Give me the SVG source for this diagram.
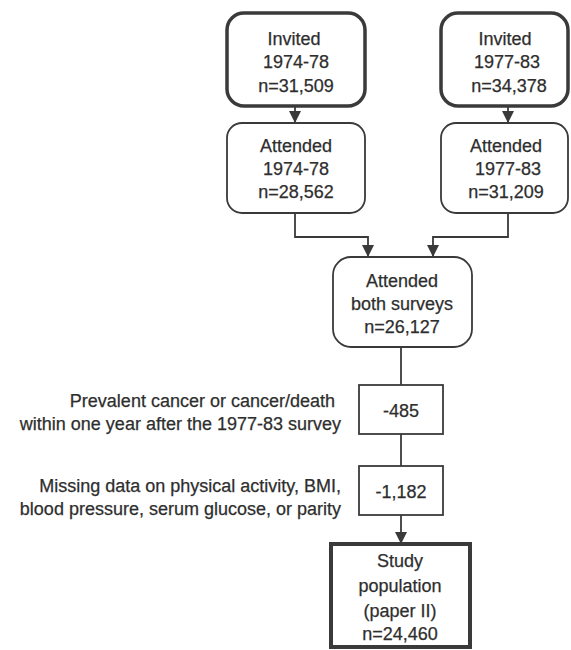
<svg xmlns="http://www.w3.org/2000/svg" width="571" height="650" viewBox="0 0 571 650">
  <style>
    text { font-family: "Liberation Sans", Arial, sans-serif; font-size: 18px; fill: #2e2e2e; stroke: #2e2e2e; stroke-width: 0.25; }
    .c { text-anchor: middle; }
    .r { text-anchor: end; }
    .box { fill: #ffffff; stroke: #3a3a3a; stroke-width: 1.8; }
    .thick { fill: #ffffff; stroke: #3a3a3a; stroke-width: 3.5; }
    .heavy { fill: #ffffff; stroke: #3a3a3a; stroke-width: 4; }
    .conn { fill: none; stroke: #3a3a3a; stroke-width: 1.8; }
  </style>
  <defs>
    <marker id="arrow" markerUnits="userSpaceOnUse" viewBox="0 0 10 10" markerWidth="12" markerHeight="12" refX="10" refY="5" orient="auto">
      <path d="M0,0 L10,5 L0,10 z" fill="#3a3a3a"/>
    </marker>
  </defs>
  <rect width="571" height="650" fill="#ffffff"/>

  <g id="connectors">
    <path class="conn" d="M295,106 V123" marker-end="url(#arrow)"/>
    <path class="conn" d="M508,106 V123" marker-end="url(#arrow)"/>
    <path class="conn" d="M295,213 V237 H368 V257" marker-end="url(#arrow)"/>
    <path class="conn" d="M508,213 V237 H433 V257" marker-end="url(#arrow)"/>
    <path class="conn" d="M401,347 V385"/>
    <path class="conn" d="M401,434 V466"/>
    <path class="conn" d="M401,515 V544" marker-end="url(#arrow)"/>
  </g>

  <g id="invited-1974">
    <rect class="thick" x="227" y="13" width="138" height="93" rx="17"/>
    <text class="c" x="294" y="45">Invited</text>
    <text class="c" x="296" y="68">1974-78</text>
    <text class="c" x="296" y="92">n=31,509</text>
  </g>
  <g id="invited-1977">
    <rect class="thick" x="441" y="13" width="127" height="93" rx="17"/>
    <text class="c" x="505" y="45">Invited</text>
    <text class="c" x="507" y="68">1977-83</text>
    <text class="c" x="509" y="92">n=34,378</text>
  </g>
  <g id="attended-1974">
    <rect class="box" x="227" y="123" width="138" height="90" rx="15"/>
    <text class="c" x="296" y="152">Attended</text>
    <text class="c" x="296" y="175">1974-78</text>
    <text class="c" x="296" y="198">n=28,562</text>
  </g>
  <g id="attended-1977">
    <rect class="box" x="441" y="123" width="127" height="90" rx="15"/>
    <text class="c" x="506" y="152">Attended</text>
    <text class="c" x="508" y="175">1977-83</text>
    <text class="c" x="506" y="198">n=31,209</text>
  </g>
  <g id="attended-both">
    <rect class="box" x="333" y="257" width="139" height="90" rx="18"/>
    <text class="c" x="402" y="287">Attended</text>
    <text class="c" x="402" y="310">both surveys</text>
    <text class="c" x="402" y="333">n=26,127</text>
  </g>
  <g id="excl-485">
    <rect class="box" x="359" y="385" width="84" height="49"/>
    <text class="c" x="401" y="417">-485</text>
    <text class="r" x="335" y="407">Prevalent cancer or cancer/death</text>
    <text class="r" x="341" y="430">within one year after the 1977-83 survey</text>
  </g>
  <g id="excl-1182">
    <rect class="box" x="359" y="466" width="84" height="49"/>
    <text class="c" x="401" y="498">-1,182</text>
    <text class="r" x="341" y="492">Missing data on physical activity, BMI,</text>
    <text class="r" x="341" y="515">blood pressure, serum glucose, or parity</text>
  </g>
  <g id="study-population">
    <rect class="heavy" x="331" y="544" width="139" height="103"/>
    <text class="c" x="400" y="567">Study</text>
    <text class="c" x="400" y="592">population</text>
    <text class="c" x="400" y="617">(paper II)</text>
    <text class="c" x="400" y="640">n=24,460</text>
  </g>
</svg>
